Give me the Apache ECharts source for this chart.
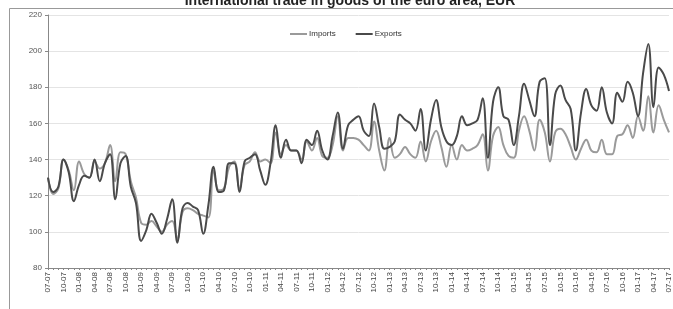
<!DOCTYPE html>
<html>
<head>
<meta charset="utf-8">
<script src="https://cdn.jsdelivr.net/npm/echarts@6/dist/echarts.min.js"></script>
<style>
  html, body { margin: 0; padding: 0; background: #fff; }
  #chartBox { width: 673px; height: 309px; }
</style>
</head>
<body>
<div id="chartBox"></div>
<script>
// monthly, Jul 2007 .. Jul 2017
const months = [];
for (let y = 7; y <= 17; y++) {
  for (let m = 1; m <= 12; m++) {
    if ((y === 7 && m < 7) || (y === 17 && m > 7)) continue;
    months.push(String(m).padStart(2, "0") + "-" + String(y).padStart(2, "0"));
  }
}

const imports = [
  130, 121, 124, 140, 134, 123, 139, 132, 130, 139, 135, 138, 148, 128, 144, 143,
  128, 119, 105, 104, 106, 103, 100, 104, 106, 96, 111, 113, 112, 110, 109, 108,
  134, 123, 124, 136, 139, 124, 137, 139, 144, 139, 140, 138, 155, 143, 148, 145,
  145, 140, 150, 145, 152, 142, 141, 148, 164, 145, 152, 152, 151, 148, 145, 161,
  145, 134, 152, 141, 143, 147, 143, 141, 150, 139, 150, 156, 147, 136, 148, 140,
  148, 145, 146, 148, 154, 134, 153, 158, 148, 142, 141, 156, 164, 156, 145, 162,
  155, 139, 155, 157, 154, 147, 140, 146, 151, 145, 144, 151, 143, 143, 153, 154,
  159, 152, 164, 156, 175, 155, 170, 162, 155
];

const exports = [
  130, 122, 125, 140, 133, 117, 126, 131, 130, 140, 128, 138, 143, 118, 138, 142,
  125, 116, 95, 101, 110, 105, 99, 107, 118, 94, 113, 116, 114, 112, 99, 115,
  136, 122, 123, 138, 138, 122, 139, 141, 143, 134, 126, 138, 159, 141, 151, 145,
  145, 138, 151, 148, 156, 145, 140, 153, 166, 146, 159, 162, 164, 156, 153, 171,
  158, 146, 147, 150, 165, 162, 160, 156, 168, 145, 162, 173, 158, 150, 148, 153,
  164, 159, 160, 162, 174, 141, 172, 180, 164, 162, 148, 164, 182, 173, 164, 183,
  185, 148, 176, 181, 173, 168, 145, 166, 179, 170, 167, 180, 166, 160, 177, 172,
  183, 177, 164, 188, 204, 169, 191, 187, 178
];

const yTicks = { min: 80, max: 220, interval: 20 };

const chartDom = document.getElementById("chartBox");
const myChart = echarts.init(chartDom);
const font = "Liberation Sans";

const option = {
  animation: false,
  textStyle: { fontFamily: font },
  title: {
    text: "International trade in goods of the euro area, EUR",
    left: 345,
    top: -11,
    textAlign: "center",
    textStyle: { fontSize: 14, fontWeight: "bold", color: "#222", fontFamily: font },
  },
  graphic: [
    {
      type: "rect",
      shape: { x: 9.5, y: 8.5, width: 700, height: 400 },
      style: { fill: "none", stroke: "#999", lineWidth: 1 },
      silent: true,
    },
  ],
  legend: {
    left: 285,
    top: 25,
    icon: "rect",
    itemWidth: 17,
    itemHeight: 2,
    itemGap: 20,
    textStyle: { fontSize: 8, color: "#333", fontFamily: font, padding: [0, 0, 0, -3] },
    data: ["Imports", "Exports"],
  },
  grid: {
    left: 48,
    right: 4,
    top: 15,
    bottom: 41,
    containLabel: false,
    outerBoundsMode: "none",
  },
  xAxis: {
    type: "category",
    data: months,
    boundaryGap: false,
    axisLine: { lineStyle: { color: "#888", width: 1 } },
    axisTick: { show: true, interval: 0, length: 2, lineStyle: { color: "#888" } },
    axisLabel: {
      interval: 2,
      rotate: 90,
      fontSize: 8,
      color: "#444",
      margin: 4,
      fontFamily: font,
    },
    splitLine: { show: false },
  },
  yAxis: {
    type: "value",
    min: yTicks.min,
    max: yTicks.max,
    interval: yTicks.interval,
    axisLine: { show: true, lineStyle: { color: "#888", width: 1 } },
    axisTick: { show: true, length: 3, lineStyle: { color: "#888" } },
    axisLabel: { fontSize: 8, color: "#555", margin: 6, fontFamily: font },
    splitLine: { lineStyle: { color: "#e4e4e4", width: 1 } },
  },
  series: [
    {
      name: "Imports",
      type: "line",
      data: imports,
      smooth: 0.4,
      showSymbol: false,
      lineStyle: { color: "#9a9a9a", width: 2 },
      itemStyle: { color: "#9a9a9a" },
    },
    {
      name: "Exports",
      type: "line",
      data: exports,
      smooth: 0.4,
      showSymbol: false,
      lineStyle: { color: "#4a4a4a", width: 2 },
      itemStyle: { color: "#4a4a4a" },
    },
  ],
};

option && myChart.setOption(option);
</script>
</body>
</html>
